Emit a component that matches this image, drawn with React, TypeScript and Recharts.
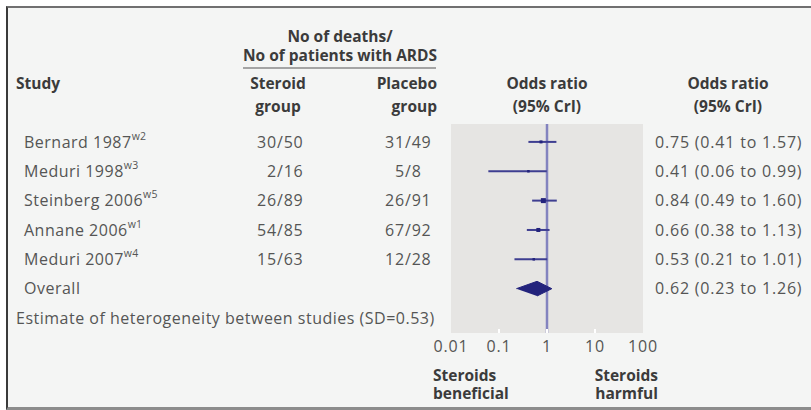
import React from 'react'
import {
  ComposedChart,
  Scatter,
  XAxis,
  YAxis,
  ReferenceLine,
  ReferenceArea,
} from 'recharts'

// table + forest plot data
const studies = ['Bernard 1987', 'Meduri 1998', 'Steinberg 2006', 'Annane 2006', 'Meduri 2007']
const refs = ['w2', 'w3', 'w5', 'w1', 'w4']
const steroidDeaths = [30, 2, 26, 54, 15]
const steroidTotal = [50, 16, 89, 85, 63]
const placeboDeaths = [31, 5, 26, 67, 12]
const placeboTotal = [49, 8, 91, 92, 28]
const oddsRatio = [0.75, 0.41, 0.84, 0.66, 0.53]
const lowerCrI = [0.41, 0.06, 0.49, 0.38, 0.21]
const upperCrI = [1.57, 0.99, 1.6, 1.13, 1.01]
const weights = [3, 2.5, 5, 4, 2.5]

const overallLabel = 'Overall'
const overallOR = 0.62
const overallLow = 0.23
const overallHigh = 1.26
const heterogeneityLabel = 'Estimate of heterogeneity between studies (SD=0.53)'

const xTicks = [0.01, 0.1, 1, 10, 100]

const C = {
  panel: '#f4f5f4',
  plotBg: '#e6e5e3',
  text: '#555555',
  head: '#3b3b3b',
  navy: '#23237c',
  ciLine: '#3e3e91',
  refLine: '#8383bf',
} as const

const FONT = '"Open Sans", "Noto Sans", sans-serif'
const FS = 16
const WORD_LS = 0.5
const NUM_LS = 0.8

// column anchors (px)
const COL = {
  study: 24,
  steroidSlash: 281,
  placeboSlash: 409,
  orText: 655,
}

const fmt = (n: number) => n.toFixed(2)

const tableRows = studies.map((s, i) => ({
  x: 1,
  y: i,
  name: s,
  ref: refs[i],
  steroid: [steroidDeaths[i], steroidTotal[i]],
  placebo: [placeboDeaths[i], placeboTotal[i]],
  ci: `${fmt(oddsRatio[i])} (${fmt(lowerCrI[i])} to ${fmt(upperCrI[i])})`,
}))
const extraRows = [
  { x: 1, y: 5, name: overallLabel, ci: `${fmt(overallOR)} (${fmt(overallLow)} to ${fmt(overallHigh)})` },
  { x: 1, y: 6, name: heterogeneityLabel, left: 16 },
]

const points = studies.map((_, i) => ({ x: oddsRatio[i], y: i, w: weights[i] }))
const diamond = [
  { x: overallLow, y: 5 },
  { x: overallOR, y: 4.75 },
  { x: overallHigh, y: 5 },
  { x: overallOR, y: 5.25 },
]

const body = { fontSize: FS, fill: C.text, fontFamily: FONT }

function Frac({ slash, cy, v }: { slash: number; cy: number; v: number[] }) {
  return (
    <>
      <text x={slash - 4} y={cy} dy="0.36em" textAnchor="end" letterSpacing={NUM_LS} {...body}>
        {v[0]}
      </text>
      <text x={slash - 4} y={cy} dy="0.36em" textAnchor="start" letterSpacing={NUM_LS} {...body}>
        /{v[1]}
      </text>
    </>
  )
}

function RowText(props: any) {
  const { cy, payload } = props
  return (
    <g>
      <text x={payload.left ?? COL.study} y={cy} dy="0.36em" letterSpacing={WORD_LS} {...body}>
        {payload.name}
        {payload.ref && (
          <tspan fontSize={10.5} dy="-0.75em" letterSpacing={0.2}>{payload.ref}</tspan>
        )}
      </text>
      {payload.steroid && <Frac slash={COL.steroidSlash} cy={cy} v={payload.steroid} />}
      {payload.placebo && <Frac slash={COL.placeboSlash} cy={cy} v={payload.placebo} />}
      {payload.ci && (
        <text x={COL.orText} y={cy} dy="0.36em" letterSpacing={NUM_LS} {...body}>
          {payload.ci}
        </text>
      )}
    </g>
  )
}

function Square(props: any) {
  const { cx, cy, payload } = props
  const s = payload.w
  return <rect x={cx - s / 2} y={cy - s / 2} width={s} height={s} fill={C.navy} />
}

function XTick(props: any) {
  const { x, y, payload } = props
  const edge = payload.value === 0.01 || payload.value === 100
  return (
    <g>
      {!edge && <line x1={x} x2={x} y1={y - 4} y2={y} stroke="#ffffff" strokeWidth={2} />}
      <text x={x} y={y + 13} dy="0.36em" textAnchor="middle" letterSpacing={NUM_LS} {...body}>
        {payload.value}
      </text>
    </g>
  )
}

const none = () => <g />

function Headers() {
  const bold = { fontFamily: FONT, fontWeight: 700, fontSize: 15.5, fill: C.head }
  return (
    <svg width={811} height={410} style={{ position: 'absolute', left: 0, top: 0, pointerEvents: 'none' }}>
      <text x={340} y={36.5} dy="0.36em" textAnchor="middle" {...bold}>No of deaths/</text>
      <text x={340} y={55} dy="0.36em" textAnchor="middle" {...bold}>No of patients with ARDS</text>
      <line x1={243} x2={436} y1={68} y2={68} stroke="#555" strokeWidth={1.2} />
      <text x={16} y={83} dy="0.36em" {...bold}>Study</text>
      <text x={278} y={83} dy="0.36em" textAnchor="middle" {...bold}>Steroid</text>
      <text x={278} y={106} dy="0.36em" textAnchor="middle" {...bold}>group</text>
      <text x={437} y={83} dy="0.36em" textAnchor="end" {...bold}>Placebo</text>
      <text x={437} y={106} dy="0.36em" textAnchor="end" {...bold}>group</text>
      <text x={547} y={83} dy="0.36em" textAnchor="middle" {...bold}>Odds ratio</text>
      <text x={547} y={106} dy="0.36em" textAnchor="middle" {...bold}>(95% CrI)</text>
      <text x={728} y={83} dy="0.36em" textAnchor="middle" {...bold}>Odds ratio</text>
      <text x={728} y={106} dy="0.36em" textAnchor="middle" {...bold}>(95% CrI)</text>
      <text x={433} y={375.5} dy="0.36em" {...bold}>Steroids</text>
      <text x={433} y={393.5} dy="0.36em" {...bold}>beneficial</text>
      <text x={658} y={375.5} dy="0.36em" textAnchor="end" {...bold}>Steroids</text>
      <text x={658} y={393.5} dy="0.36em" textAnchor="end" {...bold}>harmful</text>
    </svg>
  )
}

export default function App() {
  return (
    <div style={{ position: 'absolute', left: 0, top: 0, width: 811, height: 410, background: '#fff' }}>
      <div
        style={{
          position: 'absolute',
          left: 6,
          top: 6,
          width: 805,
          height: 404,
          boxSizing: 'border-box',
          background: C.panel,
          borderTop: '2px solid #707070',
          borderLeft: '2px solid #3a3a3a',
          borderBottom: '3px solid #8c8c8c',
        }}
      />
      <div style={{ position: 'absolute', left: 0, top: 0 }}>
        <ComposedChart width={811} height={410} margin={{ top: 124, right: 168, bottom: 0, left: 451 }}>
          <XAxis
            dataKey="x"
            type="number"
            scale="log"
            domain={[0.01, 100]}
            ticks={xTicks}
            axisLine={false}
            tickLine={false}
            tickSize={0}
            tickMargin={0}
            interval={0}
            tick={<XTick />}
            height={77}
          />
          <YAxis dataKey="y" type="number" domain={[-0.61, 6.51]} reversed hide />
          <ReferenceArea x1={0.01} x2={100} y1={-0.61} y2={6.51} fill={C.plotBg} fillOpacity={1} stroke="none" />
          <ReferenceLine x={1} stroke={C.refLine} strokeWidth={2.5} />
          {studies.map((s, i) => (
            <Scatter
              key={s}
              data={[
                { x: lowerCrI[i], y: i },
                { x: upperCrI[i], y: i },
              ]}
              line={{ stroke: C.ciLine, strokeWidth: 2 }}
              shape={none}
              isAnimationActive={false}
            />
          ))}
          <Scatter data={points} shape={<Square />} isAnimationActive={false} />
          <Scatter
            data={diamond}
            line={{ stroke: C.navy, fill: C.navy, strokeWidth: 1 }}
            shape={none}
            isAnimationActive={false}
          />
          <Scatter data={tableRows} shape={<RowText />} isAnimationActive={false} />
          <Scatter data={extraRows} shape={<RowText />} isAnimationActive={false} />
        </ComposedChart>
      </div>
      <Headers />
    </div>
  )
}
